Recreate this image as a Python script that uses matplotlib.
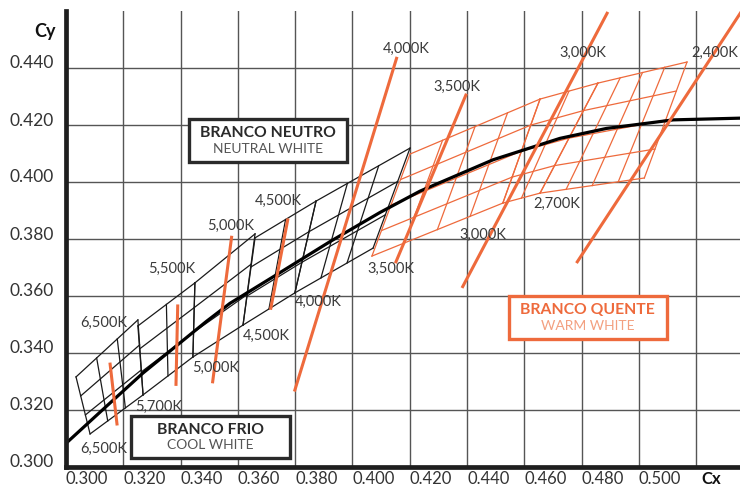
import numpy as np
import matplotlib
matplotlib.use("Agg")
import matplotlib.pyplot as plt
from matplotlib.patches import Rectangle
from matplotlib.transforms import ScaledTranslation

plt.rcParams['font.family'] = ['Lato', 'DejaVu Sans']

ORANGE = '#ee6a3c'
DARK = '#333333'

# planckian locus
locus_x = [0.300, 0.3140, 0.3268, 0.3489, 0.3572, 0.3747, 0.3922, 0.4096,
           0.4236, 0.4491, 0.4724, 0.4887, 0.5120, 0.5353]
locus_y = [0.3083, 0.3212, 0.3329, 0.3510, 0.3574, 0.3682, 0.3791, 0.3893,
           0.3968, 0.4078, 0.4153, 0.4188, 0.4218, 0.4224]

# quadrangles: corners (top-left, top-right, bottom-right, bottom-left), rows, cols
black_quads = {
    '6500K': ([(0.3035, 0.3316), (0.3251, 0.3516), (0.3269, 0.3253), (0.3084, 0.3116)], 3, 3),
    '5700K': ([(0.3251, 0.3495), (0.3450, 0.3646), (0.3443, 0.3386), (0.3269, 0.3253)], 3, 2),
    '5000K': ([(0.3450, 0.3646), (0.3660, 0.3818), (0.3618, 0.3498), (0.3443, 0.3386)], 3, 1),
    '4500K': ([(0.3660, 0.3804), (0.3873, 0.3933), (0.3799, 0.3611), (0.3618, 0.3498)], 3, 2),
    '4000K': ([(0.3873, 0.3933), (0.4201, 0.4119), (0.4072, 0.3768), (0.3799, 0.3611)], 3, 3),
}
orange_quads = {
    '3500K': ([(0.4201, 0.4098), (0.4655, 0.4291), (0.4525, 0.3926), (0.4068, 0.3740)], 4, 4),
    '3000K': ([(0.4655, 0.4291), (0.4857, 0.4347), (0.4655, 0.3961), (0.4525, 0.3926)], 4, 2),
    '2700K': ([(0.4857, 0.4347), (0.5168, 0.4421), (0.5019, 0.4014), (0.4655, 0.3961)], 4, 4),
}

# iso-temperature lines (x0, y0, x1, y1)
cct_lines = [
    (0.3154, 0.3361, 0.3178, 0.3151),
    (0.3390, 0.3565, 0.3384, 0.3290),
    (0.3578, 0.3806, 0.3512, 0.3299),
    (0.3774, 0.3867, 0.3715, 0.3557),
    (0.4154, 0.4434, 0.3799, 0.3270),
    (0.4396, 0.4305, 0.4152, 0.3720),
    (0.4889, 0.4592, 0.4385, 0.3633),
    (0.5359, 0.4600, 0.4785, 0.3720),
]

# temperature labels (text, x, y)
cct_labels = [
    ('6,500K', 0.3049, 0.3505), ('6,500K', 0.3049, 0.3063),
    ('5,500K', 0.3286, 0.3695), ('5,700K', 0.3241, 0.3211),
    ('5,000K', 0.3492, 0.3846), ('5,000K', 0.3440, 0.3347),
    ('4,500K', 0.3660, 0.3933), ('4,500K', 0.3618, 0.3460),
    ('4,000K', 0.4107, 0.4467), ('4,000K', 0.3799, 0.3579),
    ('3,500K', 0.4281, 0.4333), ('3,500K', 0.4054, 0.3694),
    ('3,000K', 0.4724, 0.4453), ('3,000K', 0.4375, 0.3814),
    ('2,700K', 0.4631, 0.3923), ('2,400K', 0.5184, 0.4452),
]

x_ticks = [0.30, 0.32, 0.34, 0.36, 0.38, 0.40, 0.42, 0.44, 0.46, 0.48, 0.50, 0.52]
x_tick_labels = ['0.300', '0.320', '0.340', '0.360', '0.380', '0.400', '0.420',
                 '0.440', '0.460', '0.480', '0.500', 'Cx']
y_ticks = [0.30, 0.32, 0.34, 0.36, 0.38, 0.40, 0.42, 0.44]
y_tick_labels = ['0.300', '0.320', '0.340', '0.360', '0.380', '0.400', '0.420', '0.440']


def draw_quad(ax, corners, rows, cols, color):
    tl, tr, br, bl = [np.array(c) for c in corners]
    for i in range(rows + 1):
        t = i / rows
        a = tl + (bl - tl) * t
        b = tr + (br - tr) * t
        ax.plot([a[0], b[0]], [a[1], b[1]], color=color, lw=0.9, zorder=2)
    for j in range(cols + 1):
        s = j / cols
        a = tl + (tr - tl) * s
        b = bl + (br - bl) * s
        ax.plot([a[0], b[0]], [a[1], b[1]], color=color, lw=0.9, zorder=2)


fig = plt.figure(figsize=(7.4, 4.88), dpi=100)
ax = fig.add_axes([66 / 740, 21 / 488, 674 / 740, 456 / 488])
ax.set_xlim(0.300, 0.5353)
ax.set_ylim(0.300, 0.460)

ax.set_axisbelow(True)
ax.grid(True, color='#555555', lw=1.0)
for s in ['top', 'right']:
    ax.spines[s].set_visible(False)
for s in ['left', 'bottom']:
    ax.spines[s].set_linewidth(3.4)
    ax.spines[s].set_color('#1e1e1e')
    ax.spines[s].set_zorder(6)

ax.set_xticks(x_ticks)
ax.set_xticklabels(x_tick_labels, fontsize=12, color=DARK, ha='left')
ax.set_yticks(y_ticks)
ax.set_yticklabels(y_tick_labels, fontsize=12.5, color=DARK)
ax.tick_params(length=0)
ax.tick_params(axis='x', pad=3)
ax.tick_params(axis='y', pad=9)
xl = ax.get_xticklabels()[-1]
xl.set_fontweight('bold')
xl.set_color('#111111')
up = ScaledTranslation(0, 6 / 100, fig.dpi_scale_trans)
for lab in ax.get_yticklabels():
    lab.set_transform(lab.get_transform() + up)
right = ScaledTranslation(5 / 100, 0, fig.dpi_scale_trans)
xl.set_transform(xl.get_transform() + right)
fig.text(45 / 740, 1 - 31 / 488, 'Cy', ha='center', va='center',
         fontsize=13, fontweight='bold', color='#111111')

for corners, rows, cols in black_quads.values():
    draw_quad(ax, corners, rows, cols, '#1a1a1a')
for corners, rows, cols in orange_quads.values():
    draw_quad(ax, corners, rows, cols, ORANGE)

ax.plot(locus_x, locus_y, color='black', lw=2.3, zorder=3,
        solid_capstyle='round', solid_joinstyle='round')

for x0, y0, x1, y1 in cct_lines:
    ax.plot([x0, x1], [y0, y1], color=ORANGE, lw=2.2, zorder=4)

for txt, x, y in cct_labels:
    ax.text(x, y, txt, fontsize=10.5, color='#3a3a3a', ha='left', va='center', zorder=5)

# boxes
boxes = [
    (0.3428, 0.4071, 0.3980, 0.4220, 'BRANCO NEUTRO', 'NEUTRAL WHITE', '#2a2a2a', '#2a2a2a', '#555555'),
    (0.3227, 0.3032, 0.3781, 0.3179, 'BRANCO FRIO', 'COOL WHITE', '#2a2a2a', '#2a2a2a', '#555555'),
    (0.4545, 0.3448, 0.5098, 0.3600, 'BRANCO QUENTE', 'WARM WHITE', ORANGE, ORANGE, '#f3a080'),
]
for x0, y0, x1, y1, title, sub, ec, tc, sc in boxes:
    ax.add_patch(Rectangle((x0, y0), x1 - x0, y1 - y0, facecolor='white',
                           edgecolor=ec, lw=2.4, zorder=7))
    xc = (x0 + x1) / 2
    h = y1 - y0
    ax.text(xc, y0 + h * 0.67, title, ha='center', va='center', fontsize=11.3,
            fontweight='bold', color=tc, zorder=8)
    ax.text(xc, y0 + h * 0.31, sub, ha='center', va='center', fontsize=10,
            color=sc, zorder=8)

fig.savefig('out.png', dpi=100)
